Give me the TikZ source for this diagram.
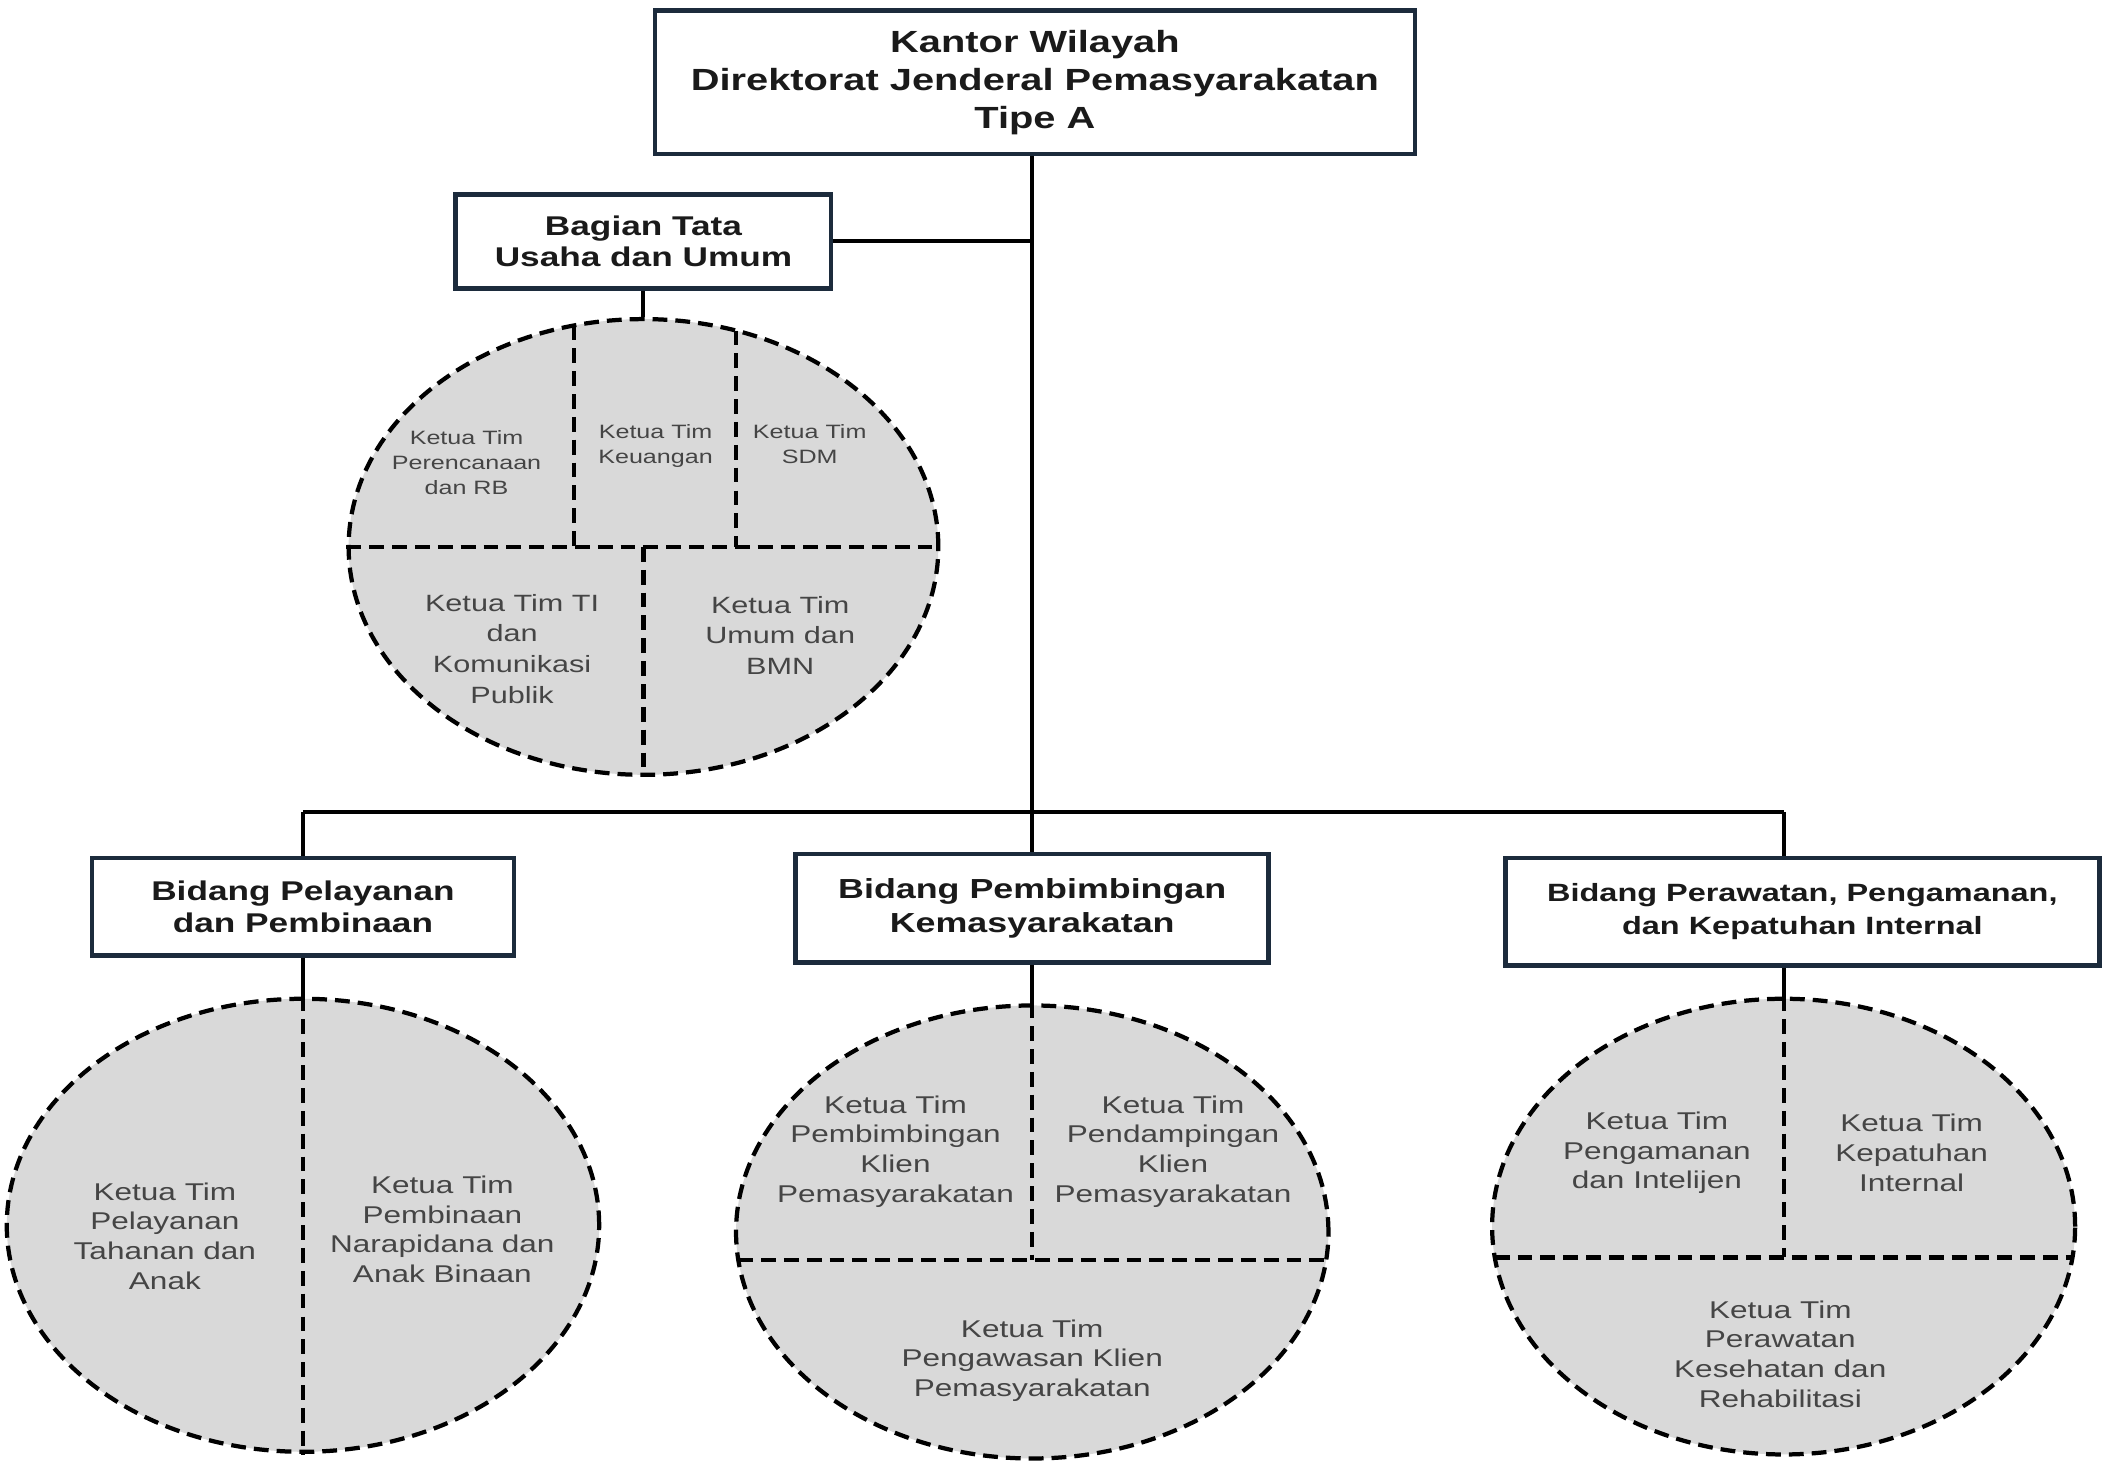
\documentclass[tikz,border=0pt]{standalone}
\usepackage{fontspec}
\setmainfont[FakeStretch=1.3]{Liberation Sans}
\usetikzlibrary{shapes.geometric}
\definecolor{boxcol}{HTML}{1C2B3C}
\definecolor{ellgray}{HTML}{D9D9D9}
\definecolor{labgray}{HTML}{454545}
\definecolor{txtcol}{HTML}{1A1A1A}
\tikzset{
  orgbox/.style={draw=boxcol, line width=2pt, fill=white, align=center, inner sep=0pt, text=txtcol},
  oval/.style={ellipse, draw=black, line width=1.8pt, dash pattern=on 6.3pt off 3.4pt, fill=ellgray, inner sep=0pt},
  conn/.style={line width=1.7pt, black},
  divline/.style={line width=1.8pt, black, dash pattern=on 6.3pt off 3.4pt},
  lab/.style={align=center, text=labgray, inner sep=0pt, font=\fontsize{10.3}{12.6}\selectfont},
  labsmall/.style={align=center, text=labgray, inner sep=0pt, font=\fontsize{8.2}{10.6}\selectfont},
  labmid/.style={align=center, text=labgray, inner sep=0pt, font=\fontsize{10}{13}\selectfont}
}
\begin{document}
\begin{tikzpicture}[x=0.02cm, y=-0.02cm]
\useasboundingbox (0,0) rectangle (1568,1104);
\fill[white] (0,0) rectangle (1568,1104);

% boxes
\node[orgbox, minimum width=11.34cm, minimum height=2.14cm, font=\bfseries\fontsize{13}{16.2}\selectfont] (top) at (772,61.5) {Kantor Wilayah\\Direktorat Jenderal Pemasyarakatan\\Tipe A};
\node[orgbox, minimum width=5.6cm, minimum height=1.4cm, font=\bfseries\fontsize{11.5}{13}\selectfont] (bag) at (480,180) {Bagian Tata\\Usaha dan Umum};
\node[orgbox, minimum width=6.3cm, minimum height=1.46cm, font=\bfseries\fontsize{11.5}{13.6}\selectfont] (b1) at (226,676.5) {Bidang Pelayanan\\dan Pembinaan};
\node[orgbox, minimum width=7.06cm, minimum height=1.62cm, font=\bfseries\fontsize{11.7}{14.2}\selectfont] (b2) at (770,677.5) {Bidang Pembimbingan\\Kemasyarakatan};
\node[orgbox, minimum width=8.86cm, minimum height=1.6cm, font=\bfseries\fontsize{10.6}{14.2}\selectfont] (b3) at (1344.5,680) {Bidang Perawatan, Pengamanan,\\dan Kepatuhan Internal};

% ellipses
\node[oval, minimum width=8.8cm, minimum height=6.8cm] (e1) at (480,408) {};
\node[oval, minimum width=8.84cm, minimum height=6.76cm] (e2) at (226,914) {};
\node[oval, minimum width=8.84cm, minimum height=6.76cm] (e3) at (770,919) {};
\node[oval, minimum width=8.7cm, minimum height=6.8cm] (e4) at (1330.5,915) {};

% division lines inside ellipses
\coordinate (e1a) at (428,242.8);
\coordinate (e1b) at (428,408);
\coordinate (e1c) at (549,246.6);
\coordinate (e1d) at (549,408);
\draw[divline] (e1.west) -- (e1.east);
\draw[divline] (e1a) -- (e1b);
\draw[divline] (e1c) -- (e1d);
\draw[divline] (e1.center) -- (e1.south);

\draw[divline] (e2.north) -- (e2.south);

\coordinate (e3l) at (550.7,940);
\coordinate (e3r) at (989.3,940);
\draw[divline] (e3l) -- (e3r);
\draw[divline] (e3.north) -- (e3.north |- e3l);

\coordinate (e4l) at (1115,938);
\coordinate (e4r) at (1546,938);
\draw[divline] (e4l) -- (e4r);
\draw[divline] (e4.north) -- (e4.north |- e4l);

% connectors
\coordinate (trunkB) at (770,606);
\coordinate (busL) at (226,606);
\coordinate (busR) at (1330.5,606);
\draw[conn] (top.south -| trunkB) -- (b2.north);
\draw[conn] (bag.east) -- (bag.east -| trunkB);
\draw[conn] (bag.south) -- (e1.north);
\draw[conn] (busL) -- (busR);
\draw[conn] (busL) -- (b1.north);
\draw[conn] (busR) -- (busR |- b3.north);
\draw[conn] (b1.south) -- (e2.north);
\draw[conn] (b2.south) -- (e3.north);
\draw[conn] (e4.north) -- (e4.north |- b3.south);

% labels
\node[labsmall] (t11) at (348,345) {Ketua Tim\\Perencanaan\\dan RB};
\node[labsmall] (t12) at (489,333) {Ketua Tim\\Keuangan};
\node[labsmall] (t13) at (604,331) {Ketua Tim\\SDM};
\node[labmid] (t14) at (382,484) {Ketua Tim TI\\dan\\Komunikasi\\Publik};
\node[labmid] (t15) at (582,474) {Ketua Tim\\Umum dan\\BMN};

\node[lab] (t21) at (123,922) {Ketua Tim\\Pelayanan\\Tahanan dan\\Anak};
\node[lab] (t22) at (330,917) {Ketua Tim\\Pembinaan\\Narapidana dan\\Anak Binaan};

\node[lab] (t31) at (668,859) {Ketua Tim\\Pembimbingan\\Klien\\Pemasyarakatan};
\node[lab] (t32) at (875,859) {Ketua Tim\\Pendampingan\\Klien\\Pemasyarakatan};
\node[lab] (t33) at (770,1015) {Ketua Tim\\Pengawasan Klien\\Pemasyarakatan};

\node[lab] (t41) at (1236,860) {Ketua Tim\\Pengamanan\\dan Intelijen};
\node[lab] (t42) at (1426,860) {Ketua Tim\\Kepatuhan\\Internal};
\node[lab] (t43) at (1328,1010) {Ketua Tim\\Perawatan\\Kesehatan dan\\Rehabilitasi};
\end{tikzpicture}
\end{document}
